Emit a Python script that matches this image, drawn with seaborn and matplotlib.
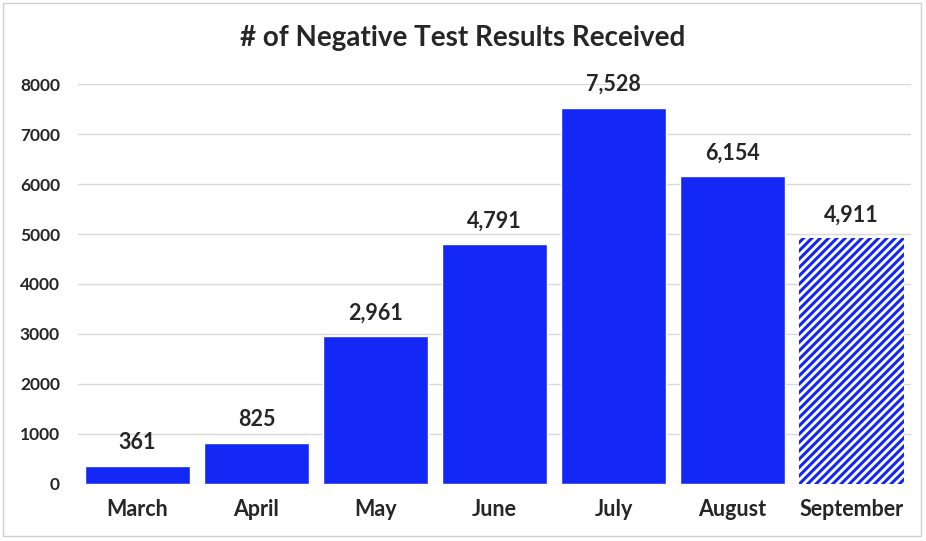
import pandas as pd
import matplotlib.pyplot as plt
import seaborn as sns
from matplotlib.patches import Rectangle

# Data
months = ['March', 'April', 'May', 'June', 'July', 'August', 'September']
negatives = [361, 825, 2961, 4791, 7528, 6154, 4911]

df = pd.DataFrame({'Month': months, 'Negative': negatives})

sns.set_theme(style="white")
plt.rcParams['font.family'] = ['Lato', 'DejaVu Sans']
plt.rcParams['hatch.linewidth'] = 2.2

blue = '#1428F5'

fig = plt.figure(figsize=(9.26, 5.41), dpi=100)
ax = fig.add_axes([0.0842, 0.1054, 0.8996, 0.7393])

sns.barplot(data=df, x='Month', y='Negative', color=blue, saturation=1,
            width=0.89, ax=ax)

# last month is partial -> hatched
last = ax.patches[-1]
last.set_facecolor('white')
last.set_edgecolor(blue)
last.set_hatch('////')
last.set_linewidth(0)

for i, v in enumerate(negatives):
    ax.annotate(f'{v:,}', (i, v), xytext=(0, 9), textcoords='offset points',
                ha='center', va='bottom', fontsize=15.5, fontweight='bold')

ax.set_ylim(0, 8000)
ax.set_xlim(-0.5, 6.5)
ax.set_yticks(range(0, 8001, 1000))
ax.yaxis.grid(True, color='#d9d9d9', linewidth=1)
ax.set_axisbelow(True)
for s in ax.spines.values():
    s.set_visible(False)
ax.set_xlabel('')
ax.set_ylabel('')
ax.tick_params(axis='y', labelsize=12.5, pad=13, length=0)
ax.tick_params(axis='x', labelsize=15.5, pad=11, length=0)
for lab in ax.get_xticklabels() + ax.get_yticklabels():
    lab.set_fontweight('bold')

fig.text(0.5, 0.93, '# of Negative Test Results Received', ha='center', va='center',
         fontsize=20, fontweight='bold')

fig.patches.append(Rectangle((0.003, 0.01), 0.992, 0.985, transform=fig.transFigure,
                             fill=False, edgecolor='#d0d0d0', linewidth=1))

plt.savefig('out.png', dpi=100)
